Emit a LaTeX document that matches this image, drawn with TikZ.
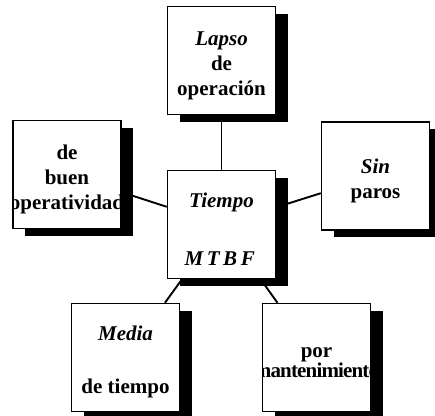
\documentclass[tikz,border=0pt]{standalone}
\usepackage{fontspec}
\setmainfont{Liberation Serif}
\usetikzlibrary{shadows,backgrounds}
\newcommand\alto{\rule{0pt}{24pt}}
\tikzset{
	letra/.style={align=center, font=\fontsize{21}{25}\selectfont\bfseries},
	caja/.style={draw, line width=1.4pt, fill=white, letra,
		minimum width=108pt, minimum height=108pt, inner sep=0pt,
		drop shadow={shadow xshift=12pt, shadow yshift=-7pt, fill=black, opacity=1}},
	recorte/.style={path picture={\node[letra, yshift=-5pt] at (path picture bounding box.center) {#1};}},
	enlace/.style={line width=1.9pt}
}
\begin{document}
\begin{tikzpicture}[x=1pt,y=-1pt]
			\useasboundingbox (0,0) rectangle (435,415);
			\node[caja] (lapso) at (221.5,60.5) {\alto\textit{Lapso}\\de\\operación};
			\node[caja, recorte={de\\buen\\operatividad}] (buen) at (67,174.5) {};
			\node[caja] (sin) at (375.5,176) {\alto\textit{Sin}\\paros};
			\node[caja] (tiempo) at (221.5,224.5)
				{\alto\textit{Tiempo}\\[33pt]{\addfontfeature{LetterSpace=17}\textit{MTBF}}};
			\node[caja] (media) at (125.5,357.5) {\alto\textit{Media}\\[28pt]de tiempo};
			\node[caja, recorte={por\\[-5pt]{\addfontfeature{LetterSpace=-4}mantenimiento}}] (mant) at (316.5,357.5) {};
			\begin{scope}[on background layer]
				\foreach \n in {lapso,buen,sin,media,mant}
					\draw[enlace] (tiempo) -- (\n);
			\end{scope}
		\end{tikzpicture}
\end{document}
